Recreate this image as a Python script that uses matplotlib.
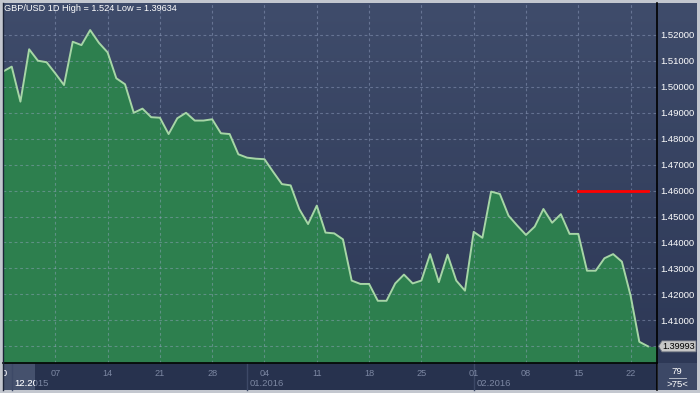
import numpy as np
import matplotlib
matplotlib.use("Agg")
import matplotlib.pyplot as plt
from matplotlib.patches import Rectangle, Polygon
from matplotlib.lines import Line2D
from matplotlib.colors import LinearSegmentedColormap
import matplotlib.transforms as mtransforms

plt.rcParams["font.family"] = ["Liberation Sans", "DejaVu Sans"]

# ================================================
# DATA (daily closes, 6 bars a week incl. Sunday)
# ================================================
title = "GBP/USD 1D High = 1.524 Low = 1.39634"
closes = [
    1.5059, 1.5078, 1.4943, 1.5145, 1.5101, 1.5095, 1.5052, 1.5007,
    1.5174, 1.5161, 1.5219, 1.5170, 1.5133, 1.5033, 1.5010, 1.4900,
    1.4916, 1.4883, 1.4881, 1.4818, 1.4879, 1.4900, 1.4870, 1.4870,
    1.4875, 1.4821, 1.4818, 1.4740, 1.4727, 1.4723, 1.4721, 1.4672,
    1.4625, 1.4620, 1.4528, 1.4471, 1.4542, 1.4438, 1.4435, 1.4412,
    1.4253, 1.4240, 1.4240, 1.4175, 1.4175, 1.4242, 1.4276, 1.4242,
    1.4253, 1.4355, 1.4247, 1.4353, 1.4253, 1.4214, 1.4441, 1.4418,
    1.4596, 1.4587, 1.4503, 1.4465, 1.4429, 1.4461, 1.4529, 1.4476,
    1.4509, 1.4433, 1.4433, 1.4291, 1.4291, 1.4339, 1.4355, 1.4326,
    1.4195, 1.4017, 1.39993,
]
monday_idx = [0, 6, 12, 18, 24, 30, 36, 42, 48, 54, 60, 66, 72]
monday_lbl = ["30", "07", "14", "21", "28", "04", "11", "18", "25",
              "01", "08", "15", "22"]
month_idx = [1, 28, 54]
month_lbl = ["12.2015", "01.2016", "02.2016"]
y_ticks = [1.40, 1.41, 1.42, 1.43, 1.44, 1.45, 1.46, 1.47, 1.48,
           1.49, 1.50, 1.51, 1.52]
target_level = 1.46
target_from, target_to = 66, 74
corner_top, corner_bottom = "79", ">75<"

# ================================================
# LAYOUT
# ================================================
W, H = 700, 393
fig = plt.figure(figsize=(7, 3.93), dpi=100, facecolor="#c3c7cf")


def fx(x):
    return x / W


def fy(y):
    return 1 - y / H


def frect(x0, y0, x1, y1, color, z=0.5):
    r = Rectangle((fx(x0), fy(y1)), fx(x1) - fx(x0), fy(y0) - fy(y1),
                  transform=fig.transFigure, facecolor=color,
                  edgecolor="none", zorder=z)
    fig.add_artist(r)
    return r


def fline(xs, ys, color, lw=1.0, z=6):
    fig.add_artist(Line2D([fx(v) for v in xs], [fy(v) for v in ys],
                          transform=fig.transFigure, color=color, lw=lw,
                          zorder=z))


# gradient background for plot + price scale
bg_ax = fig.add_axes([fx(3), fy(363), fx(697) - fx(3), fy(3) - fy(363)])
bg_cmap = LinearSegmentedColormap.from_list("bg", ["#3f4c6b", "#2d3856"])
bg_ax.imshow(np.linspace(0, 1, 256).reshape(-1, 1), cmap=bg_cmap,
             aspect="auto", extent=[0, 1, 0, 1], origin="upper")
bg_ax.set_axis_off()
bg_ax.set_zorder(0)

ax = fig.add_axes([fx(3), fy(363), fx(657) - fx(3), fy(3) - fy(363)])
ax.set_zorder(1)
ax.patch.set_visible(False)

xmin, xmax = 0.115, 75.03
ymin, ymax = 1.39351, 1.53234
ax.set_xlim(xmin, xmax)
ax.set_ylim(ymin, ymax)

x = np.arange(len(closes))
ax.fill_between(np.append(x, xmax), np.append(closes, closes[-1]), ymin,
                color="#2d7f4e", lw=0, zorder=1)
ax.plot(x, closes, color="#a6d6a6", lw=1.4, zorder=3)
ax.plot([target_from, target_to], [target_level, target_level],
        color="#ff0000", lw=2, zorder=4)

ax.set_axisbelow(False)
ax.grid(True, color="#9aa8c8", alpha=0.45, ls=(0, (2.5, 2.5)), lw=0.8)
for s in ax.spines.values():
    s.set_visible(False)

ax.set_xticks(monday_idx)
ax.set_xticklabels([])
ax.tick_params(axis="x", length=0)
ax.yaxis.tick_right()
ax.set_yticks(y_ticks)
ax.set_yticklabels(["" if abs(v - 1.40) < 1e-9 else f"{v:.5f}" for v in y_ticks])
ax.tick_params(axis="y", length=0, pad=2.2, labelcolor="white", labelsize=6.8)

ax.text(0.002, 0.996, title, transform=ax.transAxes, ha="left", va="top",
        color="white", fontsize=6.6, zorder=6)

# ================================================
# BOTTOM STRIP (dates)
# ================================================
strip = frect(3, 363, 657, 390, "#27324e", z=0.5)
sel_box = frect(3, 363, 35, 390, "#45516d", z=0.6)
frect(658, 363, 697, 390, "#3c4866", z=0.5)

xt = mtransforms.blended_transform_factory(ax.transData, fig.transFigure)
for i in month_idx:
    fig.add_artist(Line2D([i, i], [fy(363), fy(390)], transform=xt,
                          color="#3d4967", lw=1, zorder=0.7))

for clip, col in [(strip, "#7c87a2"), (sel_box, "white")]:
    for i, lbl in zip(monday_idx, monday_lbl):
        t = fig.text(i, fy(373), lbl, transform=xt, ha="center", va="center",
                     color=col, fontsize=6.6, zorder=1)
        t.set_clip_path(clip)
    for i, lbl in zip(month_idx, month_lbl):
        t = fig.text(i, fy(384), lbl, ha="left", va="center", color=col,
                     fontsize=6.8, zorder=1,
                     transform=mtransforms.offset_copy(xt, fig=fig, x=3,
                                                       units="dots"))
        t.set_clip_path(clip)

fig.text(fx(677), fy(371), corner_top, ha="center", va="center",
         color="white", fontsize=6.8, zorder=6)
fline([669, 686], [378, 378], "#c9cdd6", lw=0.6)
fig.text(fx(677), fy(384.5), corner_bottom, ha="center", va="center",
         color="white", fontsize=6.8, zorder=6)

# frame lines
fline([3, 657], [363, 363], "black", lw=1.2)
fline([657, 657], [3, 390], "black", lw=1.2)
fline([2.5, 2.5], [3, 390], "#1c2438", lw=1)

# ================================================
# LAST PRICE MARKER
# ================================================
y_last = H - ax.transData.transform((0, closes[-1]))[1]
tag = Polygon([(fx(658.5), fy(y_last)), (fx(662), fy(y_last - 5.5)),
               (fx(696), fy(y_last - 5.5)), (fx(696), fy(y_last + 5.5)),
               (fx(662), fy(y_last + 5.5))], closed=True,
              transform=fig.transFigure, facecolor="#c6c6c6",
              edgecolor="#6f7480", lw=0.6, zorder=6)
fig.add_artist(tag)
fig.text(fx(679), fy(y_last), f"{closes[-1]:.5f}", ha="center",
         va="center", color="black", fontsize=6.6, zorder=7)

fig.savefig("out.png", dpi=100, facecolor=fig.get_facecolor())
